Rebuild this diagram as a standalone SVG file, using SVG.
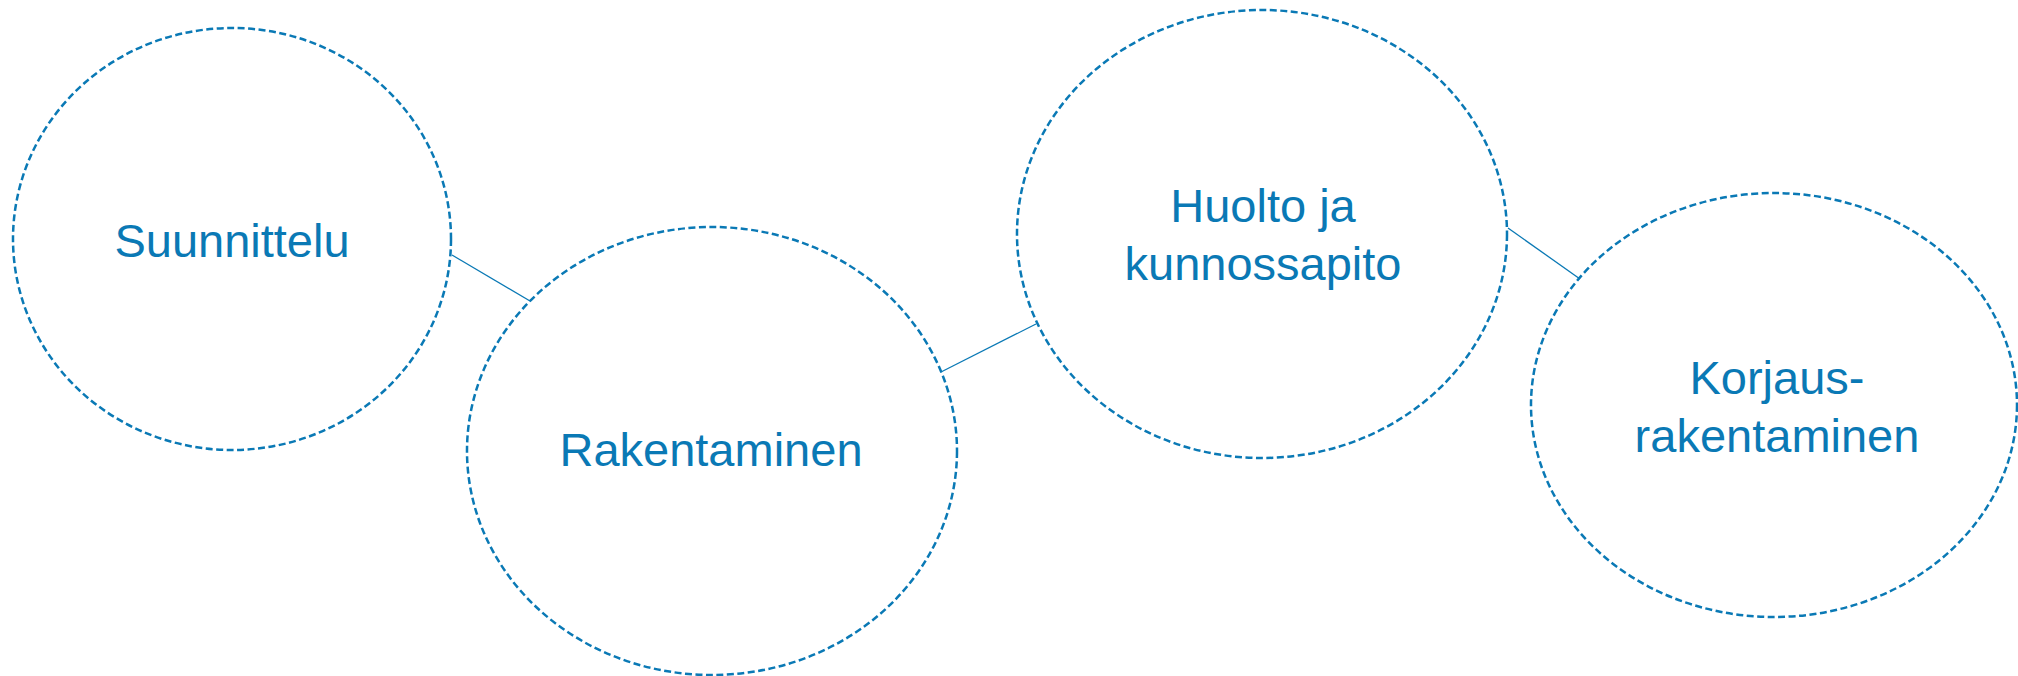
<svg xmlns="http://www.w3.org/2000/svg" width="2018" height="676" viewBox="0 0 2018 676">
<style>
.node ellipse{fill:none;stroke:#0a79b5;stroke-width:2.5;stroke-dasharray:7 3.5}
.node text{font-family:"Liberation Sans",Arial,sans-serif;font-size:47px;fill:#0a79b5;text-anchor:middle}
.conn line{stroke:#0a79b5;stroke-width:1.3}
</style>
<rect width="2018" height="676" fill="#ffffff"/>
<g id="connectors" class="conn">
<line x1="452" y1="255" x2="530" y2="301"/>
<line x1="941" y1="372" x2="1036" y2="324"/>
<line x1="1508" y1="228" x2="1580" y2="279"/>
</g>
<g id="node-suunnittelu" class="node">
<ellipse cx="232" cy="239" rx="219" ry="211"/>
<text x="232" y="257">Suunnittelu</text>
</g>
<g id="node-rakentaminen" class="node">
<ellipse cx="712" cy="451" rx="245" ry="224"/>
<text x="711" y="466">Rakentaminen</text>
</g>
<g id="node-huolto" class="node">
<ellipse cx="1262" cy="234" rx="245" ry="224"/>
<text x="1263" y="222">Huolto ja</text>
<text x="1263" y="280">kunnossapito</text>
</g>
<g id="node-korjaus" class="node">
<ellipse cx="1774" cy="405" rx="243" ry="212"/>
<text x="1777" y="394">Korjaus-</text>
<text x="1777" y="452">rakentaminen</text>
</g>
</svg>
